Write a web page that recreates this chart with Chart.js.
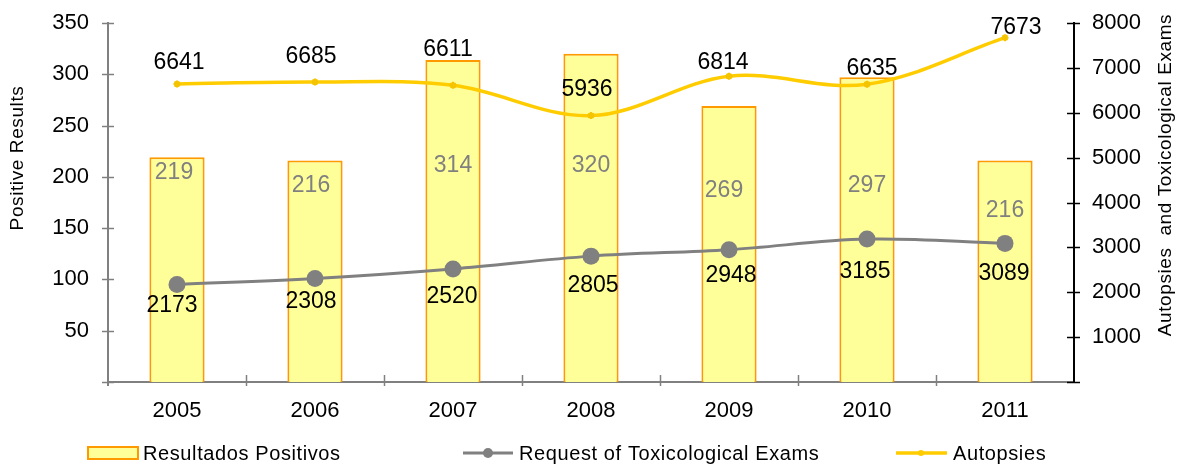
<!DOCTYPE html>
<html>
<head>
<meta charset="utf-8">
<title>Positive Results, Autopsies and Toxicological Exams</title>
<script src="https://cdn.jsdelivr.net/npm/chart.js@4/dist/chart.umd.min.js"></script>
<style>
  html, body { margin: 0; padding: 0; background: #ffffff; }
  canvas { display: block; }
</style>
</head>
<body>
<canvas id="chart" width="1178" height="464"></canvas>
<script>
// data
const years = ["2005", "2006", "2007", "2008", "2009", "2010", "2011"];
const positiveResults = [219, 216, 314, 320, 269, 297, 216];
const toxRequests = [2173, 2308, 2520, 2805, 2948, 3185, 3089];
const autopsies = [6641, 6685, 6611, 5936, 6814, 6635, 7673];

const FONT = "'Liberation Sans', Arial, Helvetica, sans-serif";
const GREY = "#808080";
const YELLOW = "#FFCC00";

// label nudges (px) so the numbers sit where they were placed by hand
const barLabelDrop = [15, 25, 106, 112, 85, 108, 50];
const barLabelDx = [-3, -4, 0, 0, -5, 0, 0];
const autopsyLabelShift = [[2, -21], [-4, -25], [-5, -36], [-4, -26], [-6, -14], [5, -16], [11, -10]];
const examLabelShift = [[-5, 21], [-4, 23], [-1, 28], [2, 30], [2, 26], [-2, 33], [-1, 30]];

// cross tick marks on both value axes and category ticks on the x axis
const axisTicks = {
  id: "axisTicks",
  afterDraw(chart) {
    const ctx = chart.ctx;
    const { left, right, bottom } = chart.chartArea;
    const y = chart.scales.y;
    const y2 = chart.scales.y2;
    const x = chart.scales.x;
    ctx.save();
    ctx.lineWidth = 1.5;

    ctx.strokeStyle = GREY;
    for (let v = 0; v <= 350; v += 50) {
      const py = Math.round(y.getPixelForValue(v)) + 0.5;
      ctx.beginPath();
      ctx.moveTo(left - 6, py);
      ctx.lineTo(left + 6, py);
      ctx.stroke();
    }
    // left axis runs a little past the x axis
    ctx.lineWidth = 2;
    ctx.beginPath();
    ctx.moveTo(left, bottom);
    ctx.lineTo(left, bottom + 4);
    ctx.stroke();

    ctx.lineWidth = 1.5;
    for (let i = 0; i < years.length - 1; i++) {
      const px = Math.round((x.getPixelForValue(i) + x.getPixelForValue(i + 1)) / 2) + 0.5;
      ctx.beginPath();
      ctx.moveTo(px, bottom - 7);
      ctx.lineTo(px, bottom + 4);
      ctx.stroke();
    }

    ctx.strokeStyle = "#000000";
    for (let v = 0; v <= 8000; v += 1000) {
      const py = Math.round(y2.getPixelForValue(v)) + 0.5;
      ctx.beginPath();
      ctx.moveTo(right - 7, py);
      ctx.lineTo(right + 6, py);
      ctx.stroke();
    }
    ctx.restore();
  },
};

// value labels, axis titles and the legend row
const chartText = {
  id: "chartText",
  afterDatasetsDraw(chart) {
    const ctx = chart.ctx;
    ctx.save();
    ctx.font = "23px " + FONT;
    ctx.textAlign = "center";
    ctx.textBaseline = "middle";

    const bars = chart.getDatasetMeta(0).data;
    ctx.fillStyle = GREY;
    bars.forEach((b, i) => {
      ctx.fillText(String(positiveResults[i]), b.x + barLabelDx[i], b.y + barLabelDrop[i]);
    });

    ctx.fillStyle = "#000000";
    chart.getDatasetMeta(1).data.forEach((p, i) => {
      const s = examLabelShift[i];
      ctx.fillText(String(toxRequests[i]), p.x + s[0], p.y + s[1]);
    });
    chart.getDatasetMeta(2).data.forEach((p, i) => {
      const s = autopsyLabelShift[i];
      ctx.fillText(String(autopsies[i]), p.x + s[0], p.y + s[1]);
    });
    ctx.restore();
  },
  afterDraw(chart) {
    const ctx = chart.ctx;
    ctx.save();
    ctx.fillStyle = "#000000";
    ctx.textBaseline = "middle";
    ctx.font = "19px " + FONT;
    ctx.letterSpacing = "0.6px";

    ctx.textAlign = "center";
    ctx.save();
    ctx.translate(18, 158);
    ctx.rotate(-Math.PI / 2);
    ctx.fillText("Positive Results", 0, 0);
    ctx.restore();

    ctx.save();
    ctx.translate(1166, 175);
    ctx.rotate(-Math.PI / 2);
    ctx.fillText("Autopsies  and Toxicological Exams", 0, 0);
    ctx.restore();

    // legend
    const ly = 453;
    ctx.font = "20px " + FONT;
    ctx.letterSpacing = "0.6px";
    ctx.textAlign = "left";

    ctx.fillStyle = "#FFFF99";
    ctx.fillRect(88, 447, 50, 12);
    ctx.strokeStyle = "#FF9900";
    ctx.lineWidth = 2;
    ctx.strokeRect(88, 447, 50, 12);
    ctx.fillStyle = "#000000";
    ctx.fillText("Resultados Positivos", 143, ly + 1);

    ctx.strokeStyle = GREY;
    ctx.lineWidth = 3;
    ctx.beginPath();
    ctx.moveTo(463, ly);
    ctx.lineTo(513, ly);
    ctx.stroke();
    ctx.fillStyle = GREY;
    ctx.beginPath();
    ctx.arc(488, ly, 5, 0, Math.PI * 2);
    ctx.fill();
    ctx.fillStyle = "#000000";
    ctx.fillText("Request of Toxicological Exams", 519, ly + 1);

    ctx.strokeStyle = YELLOW;
    ctx.lineWidth = 3.5;
    ctx.beginPath();
    ctx.moveTo(896, ly);
    ctx.lineTo(947, ly);
    ctx.stroke();
    ctx.fillStyle = YELLOW;
    ctx.beginPath();
    ctx.arc(921, ly, 3, 0, Math.PI * 2);
    ctx.fill();
    ctx.fillStyle = "#000000";
    ctx.fillText("Autopsies", 953, ly + 1);
    ctx.restore();
  },
};

const chart = new Chart(document.getElementById("chart"), {
  type: "bar",
  data: {
    labels: years,
    datasets: [
      {
        type: "bar",
        label: "Resultados Positivos",
        data: positiveResults,
        yAxisID: "y",
        backgroundColor: "#FFFF99",
        borderColor: "#FF9900",
        borderWidth: 2,
        barPercentage: 0.4,
        categoryPercentage: 1,
        order: 3,
      },
      {
        type: "line",
        label: "Request of Toxicological Exams",
        data: toxRequests,
        yAxisID: "y2",
        borderColor: GREY,
        borderWidth: 3,
        pointRadius: 8.5,
        pointBackgroundColor: GREY,
        pointBorderWidth: 0,
        tension: 0.35,
        fill: false,
        order: 2,
      },
      {
        type: "line",
        label: "Autopsies",
        data: autopsies,
        yAxisID: "y2",
        borderColor: YELLOW,
        borderWidth: 3.5,
        pointStyle: "star",
        pointRadius: 3.5,
        pointBorderColor: "#F5C400",
        pointBorderWidth: 2,
        tension: 0.35,
        fill: false,
        order: 1,
      },
    ],
  },
  options: {
    responsive: false,
    animation: false,
    layout: { padding: { top: 23, left: 0, right: 0, bottom: 0 } },
    plugins: {
      legend: { display: false },
      tooltip: { enabled: false },
    },
    scales: {
      x: {
        grid: { display: false, drawTicks: false },
        border: { display: true, color: GREY, width: 2 },
        ticks: {
          color: "#000000",
          padding: 16,
          font: { family: FONT, size: 22 },
        },
        afterFit: (s) => {
          s.height = 82;
          s.paddingLeft = 0;
          s.paddingRight = 0;
        },
      },
      y: {
        position: "left",
        min: 0,
        max: 350,
        grid: { display: false, drawTicks: false },
        border: { display: true, color: GREY, width: 2 },
        ticks: {
          stepSize: 50,
          color: "#000000",
          padding: 19,
          font: { family: FONT, size: 22 },
          callback: (v) => (v === 0 ? "" : v),
        },
        afterFit: (s) => {
          s.width = 108;
          s.paddingTop = 0;
          s.paddingBottom = 0;
        },
      },
      y2: {
        position: "right",
        min: 0,
        max: 8000,
        grid: { display: false, drawTicks: false },
        border: { display: true, color: "#000000", width: 2 },
        ticks: {
          stepSize: 1000,
          color: "#000000",
          padding: 18,
          font: { family: FONT, size: 22 },
          callback: (v) => (v === 0 ? "" : v),
        },
        afterFit: (s) => {
          s.width = 104;
          s.paddingTop = 0;
          s.paddingBottom = 0;
        },
      },
    },
  },
  plugins: [axisTicks, chartText],
});
</script>
</body>
</html>
